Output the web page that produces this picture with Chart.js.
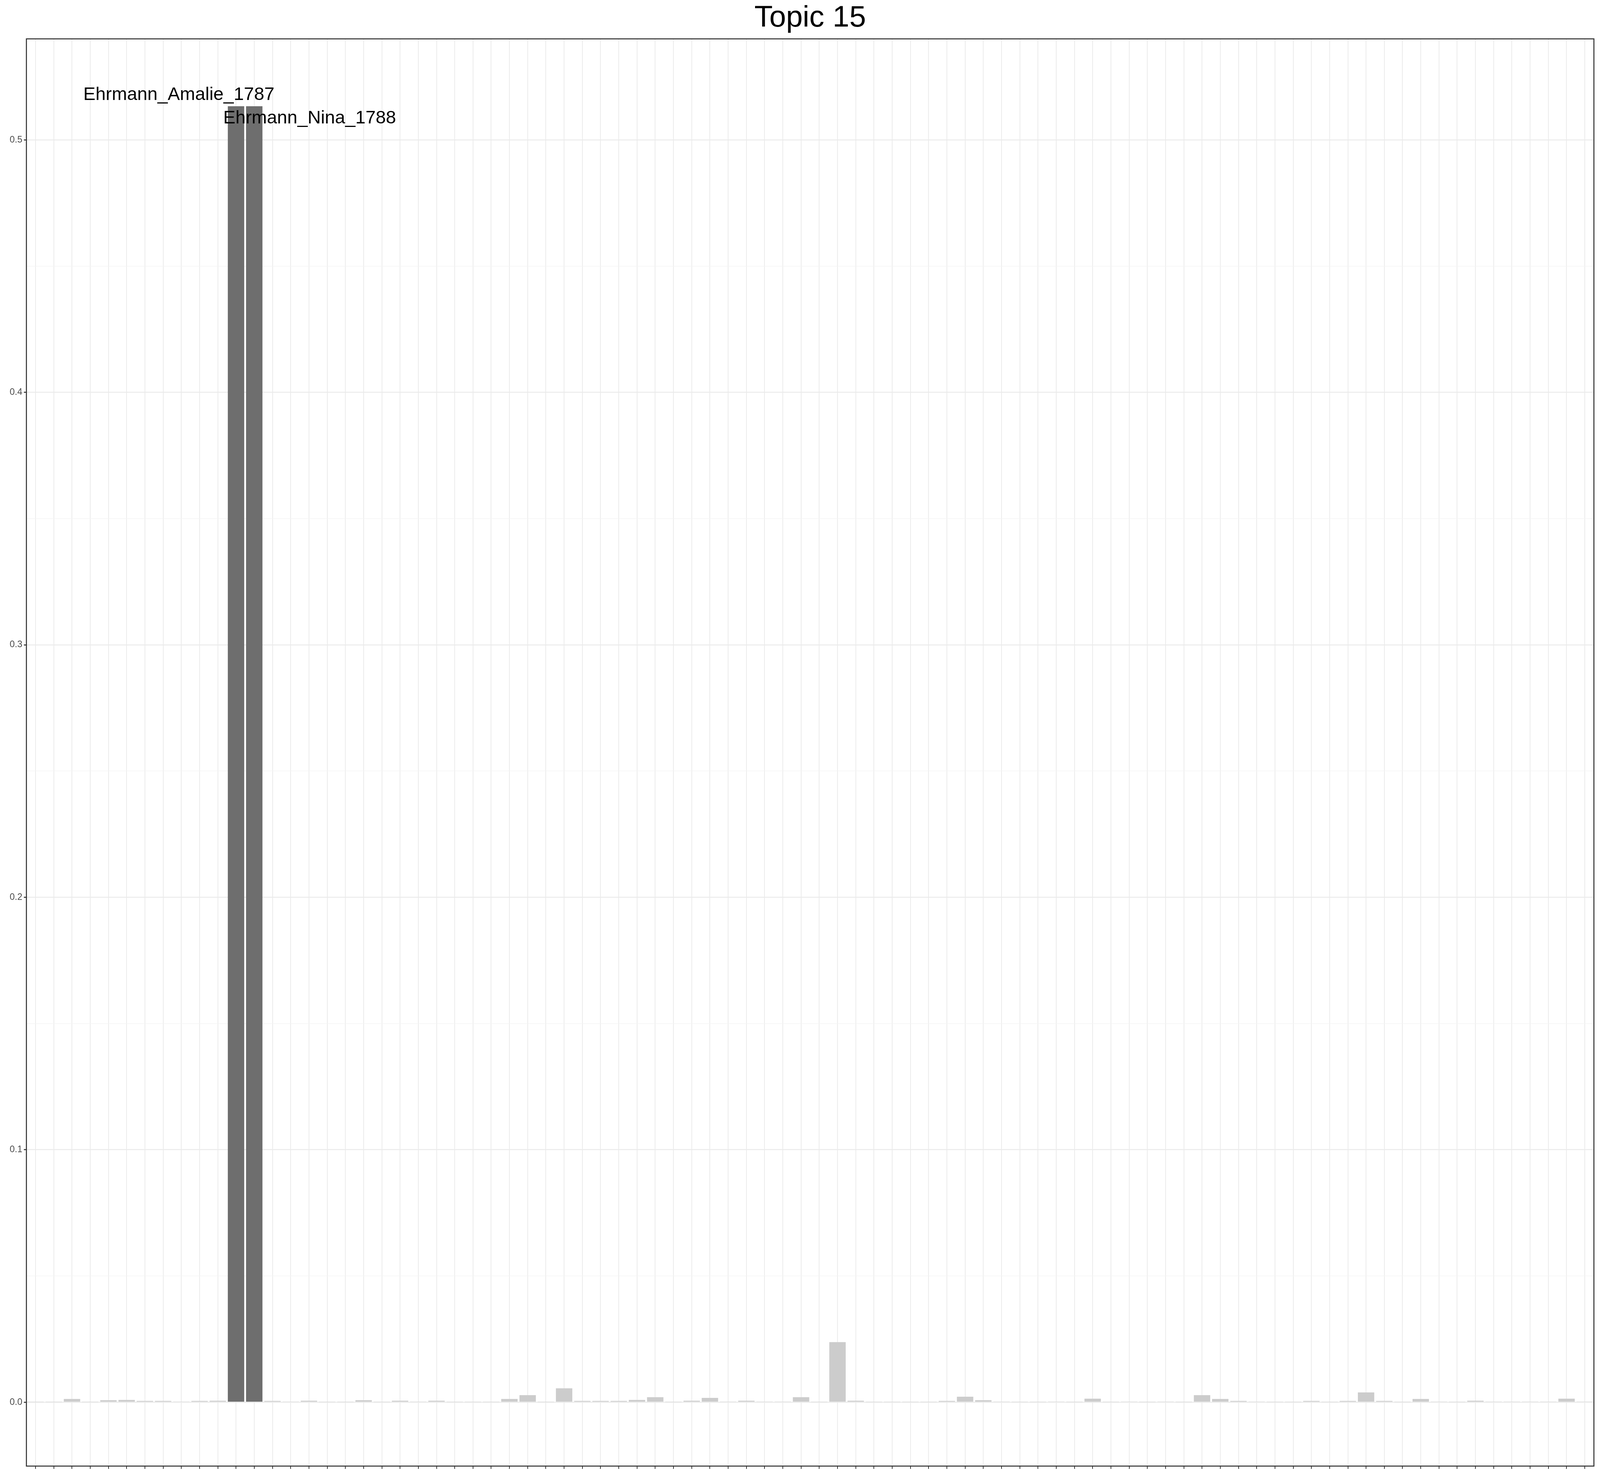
<!DOCTYPE html>
<html>
<head>
<meta charset="utf-8">
<style>
  html, body { margin: 0; padding: 0; background: #fff; overflow: hidden; }
  #wrap { width: 100vw; height: 100vh; position: relative; }
</style>
<script src="https://cdn.jsdelivr.net/npm/chart.js@4/dist/chart.umd.min.js"></script>
</head>
<body>
<div id="wrap"><canvas id="topicChart"></canvas></div>
<script>
// documents (86), only the two labelled ones are named
const documents = Array.from({ length: 86 }, (_, i) => 'doc_' + (i + 1));
documents[11] = 'Ehrmann_Amalie_1787';
documents[12] = 'Ehrmann_Nina_1788';

const topicShare = [
    0.0001, 0.0001, 0.0013, 0.0001, 0.0008, 0.0009, 0.0005, 0.0005, 0.0003, 0.0005,
    0.0006, 0.5133, 0.5133, 0.0005, 0.0003, 0.0006, 0.0001, 0.0001, 0.0008, 0.0001,
    0.0006, 0.0003, 0.0006, 0.0001, 0.0001, 0.0001, 0.0013, 0.0028, 0.0001, 0.0055,
    0.0005, 0.0005, 0.0005, 0.0009, 0.0020, 0.0001, 0.0006, 0.0017, 0.0003, 0.0006,
    0.0003, 0.0003, 0.0020, 0.0001, 0.0238, 0.0006, 0.0001, 0.0001, 0.0001, 0.0001,
    0.0005, 0.0022, 0.0008, 0.0003, 0.0001, 0.0001, 0.0003, 0.0001, 0.0014, 0.0001,
    0.0003, 0.0001, 0.0003, 0.0001, 0.0028, 0.0013, 0.0005, 0.0003, 0.0001, 0.0001,
    0.0005, 0.0001, 0.0005, 0.0039, 0.0005, 0.0001, 0.0013, 0.0003, 0.0001, 0.0006,
    0.0003, 0.0003, 0.0003, 0.0003, 0.0014, 0.0003
];

const highlighted = ['Ehrmann_Amalie_1787', 'Ehrmann_Nina_1788'];
const yTicks = [0, 0.05, 0.1, 0.15, 0.2, 0.25, 0.3, 0.35, 0.4, 0.45, 0.5];

// everything below was measured on a 6299px wide picture
const k = window.innerWidth / 6299;
const isMajor = v => Math.round(v * 100) % 10 === 0;

const labelPlugin = {
    id: 'labelPlugin',
    afterDatasetsDraw: function(chart) {
        const ctx = chart.ctx;
        const area = chart.chartArea;
        const meta = chart.getDatasetMeta(0);

        // panel border
        ctx.save();
        ctx.strokeStyle = '#333333';
        ctx.lineWidth = 4 * k;
        ctx.strokeRect(area.left, area.top, area.right - area.left, area.bottom - area.top);

        // document labels next to the tall bars
        ctx.fillStyle = '#000';
        ctx.font = (72 * k) + 'px "Liberation Sans", Arial, sans-serif';
        ctx.textAlign = 'center';
        ctx.textBaseline = 'middle';
        const offsets = [[-225, -45], [218, 48]];
        highlighted.forEach(function(name, j) {
            const bar = meta.data[documents.indexOf(name)];
            ctx.fillText(name, bar.x + offsets[j][0] * k, bar.y + offsets[j][1] * k);
        });

        // title
        ctx.font = (118 * k) + 'px "Liberation Sans", Arial, sans-serif';
        ctx.fillText('Topic 15', (area.left + area.right) / 2, 72 * k);
        ctx.restore();
    }
};

new Chart(document.getElementById('topicChart').getContext('2d'), {
    type: 'bar',
    data: {
        labels: documents,
        datasets: [{
            data: topicShare,
            backgroundColor: documents.map(d => highlighted.includes(d) ? '#6e6e6e' : '#cccccc'),
            borderWidth: 0,
            categoryPercentage: 1.0,
            barPercentage: 0.9
        }]
    },
    options: {
        responsive: true,
        maintainAspectRatio: false,
        animation: false,
        layout: { padding: { top: 153 * k, right: 24 * k, bottom: 0, left: 0 } },
        plugins: { legend: { display: false }, title: { display: false }, tooltip: { enabled: false } },
        scales: {
            x: {
                offset: true,
                grid: { offset: false, color: '#ebebeb', lineWidth: 3 * k, tickColor: '#333333', tickLength: 11 * k },
                border: { display: false },
                ticks: { display: false },
                afterFit: function(scale) { scale.height = 39 * k; }
            },
            y: {
                min: -0.0253,
                max: 0.54,
                afterBuildTicks: function(scale) { scale.ticks = yTicks.map(v => ({ value: v })); },
                grid: {
                    color: c => isMajor(c.tick.value) ? '#ebebeb' : '#f3f3f3',
                    lineWidth: c => (isMajor(c.tick.value) ? 4 : 2) * k,
                    tickColor: c => isMajor(c.tick.value) ? '#333333' : 'rgba(0,0,0,0)',
                    tickLength: 10 * k
                },
                border: { display: false },
                ticks: {
                    color: '#4d4d4d',
                    font: { size: 36 * k, family: '"Liberation Sans", Arial, sans-serif' },
                    padding: 6 * k,
                    callback: v => isMajor(v) ? v.toFixed(1) : ''
                },
                afterFit: function(scale) { scale.width = 104 * k; }
            }
        }
    },
    plugins: [labelPlugin]
});
</script>
</body>
</html>
